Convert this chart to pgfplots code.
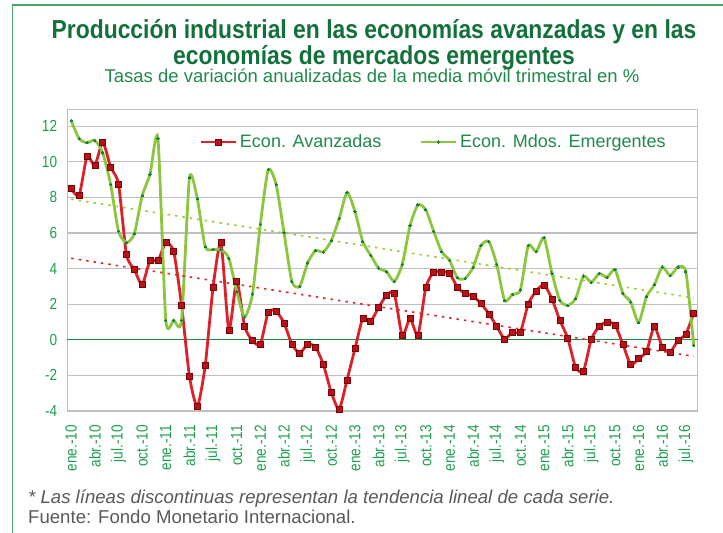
\documentclass[border=0pt]{standalone}
\usepackage{pgfplots}
\usepackage{pgfplotstable}
\pgfplotsset{compat=1.18}
\usepackage{fontspec}
\setmainfont{Liberation Sans}
\newfontfamily\titlefont{Liberation Sans}[FakeStretch=0.88]
\newfontfamily\tickfont{Liberation Sans}[FakeStretch=0.85]

\definecolor{titlegreen}{HTML}{12703A}
\definecolor{subgreen}{HTML}{1F8A4C}
\definecolor{tickgreen}{HTML}{1E9E50}
\definecolor{redline}{HTML}{D9222A}
\definecolor{redmark}{HTML}{B3141C}
\definecolor{redtrend}{HTML}{E0262E}
\definecolor{greenline}{HTML}{8CC63E}
\definecolor{greentrend}{HTML}{9ACD32}
\definecolor{greendot}{HTML}{11803F}
\definecolor{gridgray}{HTML}{C0C0C0}
\definecolor{zerogreen}{HTML}{1E8C3C}
\definecolor{footgray}{HTML}{595959}
\definecolor{framegreen}{HTML}{4BA36B}

\pgfplotstableread{
m av em
0 8.50 12.30
1 8.10 11.30
2 10.30 11.07
3 9.80 11.20
4 11.10 10.50
5 9.70 8.73
6 8.75 6.10
7 4.80 5.45
8 3.95 5.96
9 3.10 8.09
10 4.45 9.31
11 4.45 11.31
12 5.45 1.10
13 4.95 1.10
14 1.95 1.10
15 -2.05 9.10
16 -3.75 7.92
17 -1.45 5.23
18 2.95 5.07
19 5.45 5.07
20 0.55 4.58
21 3.30 2.71
22 0.75 1.28
23 -0.05 2.57
24 -0.25 6.50
25 1.55 9.56
26 1.60 8.73
27 0.95 6.02
28 -0.25 3.27
29 -0.75 3.00
30 -0.25 4.32
31 -0.40 5.02
32 -1.40 4.93
33 -2.95 5.57
34 -3.90 6.81
35 -2.25 8.28
36 -0.50 7.22
37 1.20 5.51
38 1.05 4.75
39 1.80 4.03
40 2.50 3.83
41 2.60 3.28
42 0.25 4.23
43 1.20 6.43
44 0.25 7.58
45 2.95 7.30
46 3.80 6.09
47 3.80 4.95
48 3.75 4.47
49 2.95 3.48
50 2.60 3.45
51 2.45 4.08
52 2.03 5.30
53 1.46 5.52
54 0.75 4.23
55 0.04 2.20
56 0.44 2.55
57 0.44 2.80
58 2.02 5.30
59 2.74 4.95
60 3.09 5.73
61 2.30 3.75
62 1.10 2.22
63 0.10 1.93
64 -1.54 2.31
65 -1.76 3.58
66 0.04 3.23
67 0.75 3.72
68 1.00 3.51
69 0.83 3.95
70 -0.24 2.62
71 -1.40 2.12
72 -1.05 0.97
73 -0.65 2.43
74 0.74 3.09
75 -0.40 4.09
76 -0.68 3.60
77 -0.04 4.09
78 0.32 3.81
79 1.50 -0.32
}\datatable

\begin{document}
\begin{tikzpicture}
\useasboundingbox (0,0) rectangle (723bp,533bp);
\draw[framegreen, line width=1.2bp] (12.7bp,0) -- (12.7bp,528bp) -- (723bp,528bp);

\node[anchor=base, color=titlegreen, inner sep=0pt, font=\titlefont\bfseries\fontsize{26bp}{23bp}\selectfont] at (374bp,494.5bp)
  {\begin{tabular}[t]{@{}c@{}}Producción industrial en las economías avanzadas y en las\\ economías de mercados emergentes\end{tabular}};
\node[anchor=base, color=subgreen, inner sep=0pt, font=\fontsize{18.5bp}{22bp}\selectfont] at (372bp,450bp) {Tasas de variación anualizadas de la media móvil trimestral en \%};

\node[anchor=base west, color=footgray, font=\itshape\fontsize{18.6bp}{21bp}\selectfont, inner sep=0pt] at (28bp,30bp) {* Las líneas discontinuas representan la tendencia lineal de cada serie.};
\node[anchor=base west, color=footgray, font=\fontsize{18.6bp}{21bp}\selectfont, inner sep=0pt] at (28bp,10bp) {Fuente: Fondo Monetario Internacional.};

\begin{axis}[
  at={(67.3bp,122bp)}, anchor=south west, scale only axis,
  width=630.4bp, height=301.7bp,
  xmin=-0.5, xmax=79.5, ymin=-4, ymax=12.95,
  axis line style={gridgray, line width=1bp},
  ytick={-4,-2,...,12},
  ymajorgrids, major grid style={gridgray, line width=1.3bp},
  major tick length=0pt,
  xtick={0,3,...,78},
  xticklabels={ene.-10,abr.-10,jul.-10,oct.-10,ene.-11,abr.-11,jul.-11,oct.-11,ene.-12,abr.-12,jul.-12,oct.-12,ene.-13,abr.-13,jul.-13,oct.-13,ene.-14,abr.-14,jul.-14,oct.-14,ene.-15,abr.-15,jul.-15,oct.-15,ene.-16,abr.-16,jul.-16},
  /pgf/number format/assume math mode=true,
  xticklabel style={rotate=90, anchor=east, inner sep=0pt, xshift=-14bp, font=\tickfont\fontsize{16bp}{18bp}\selectfont, text=tickgreen},
  yticklabel style={anchor=east, inner sep=0pt, xshift=-10bp, font=\tickfont\fontsize{16bp}{18bp}\selectfont, text=tickgreen},
  legend columns=2,
  legend style={at={(0.2089,0.8916)}, anchor=west, draw=none, fill=none, inner sep=0pt,
    nodes={inner sep=3bp}, font=\fontsize{18bp}{21bp}\selectfont, text=subgreen,
    /tikz/every even column/.append style={column sep=35bp}},
  legend image code/.code={\draw[#1, mark repeat=2, mark phase=2] plot coordinates {(0bp,0bp) (17.5bp,0bp) (35bp,0bp)};},
  clip=false,
]
\addplot[zerogreen, line width=1bp, forget plot] coordinates {(-0.5,0) (79.5,0)};
\addplot[redline, line width=2.8bp, smooth, tension=0.38, mark=square*, mark size=3bp, mark options={fill=redmark, draw=red!50!black, line width=0.6bp, solid}] table[x=m, y=av] {\datatable};
\addlegendentry{Econ. Avanzadas}
\addplot[greenline, line width=2.8bp, smooth, tension=0.38, mark=*, mark size=1.1bp, mark options={fill=greendot, draw=greendot, line width=0pt}] table[x=m, y=em] {\datatable};
\addlegendentry{Econ. Mdos. Emergentes}
\addplot[redtrend, line width=1.6bp, dash pattern=on 2.5bp off 5bp, forget plot] coordinates {(0,4.58) (79,-0.93)};
\addplot[greentrend, line width=1.6bp, dash pattern=on 2.5bp off 5bp, forget plot] coordinates {(0,7.9) (79,2.35)};
\end{axis}
\end{tikzpicture}
\end{document}
